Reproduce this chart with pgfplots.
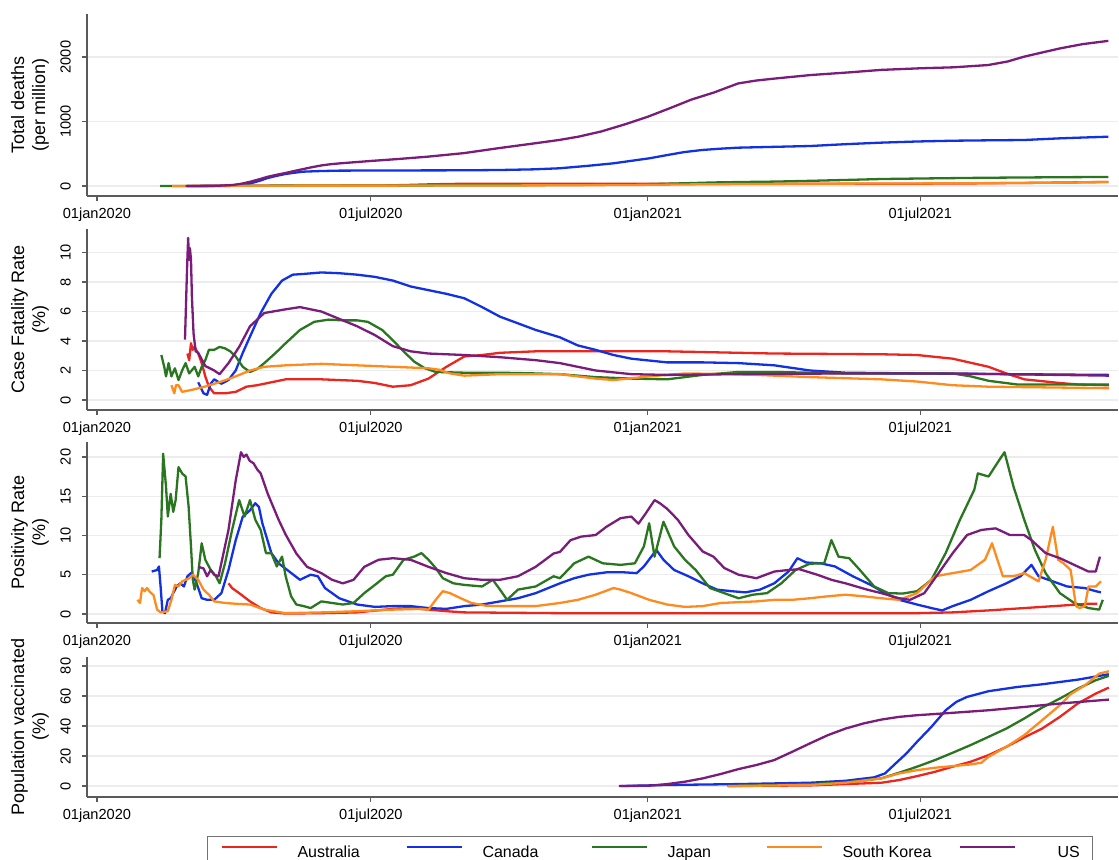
\documentclass[border=0pt]{standalone}
\usepackage{fontspec}
\setmainfont{Liberation Sans}
\usepackage{pgfplots}
\pgfplotsset{compat=1.18}

\definecolor{cAus}{RGB}{234,38,30}
\definecolor{cCan}{RGB}{18,48,228}
\definecolor{cJpn}{RGB}{42,118,32}
\definecolor{cKor}{RGB}{255,138,30}
\definecolor{cUS}{RGB}{122,28,122}
\definecolor{axisgray}{RGB}{90,90,90}
\definecolor{gridgray}{RGB}{236,236,236}

% x values are days since 1 January 2020
\pgfplotsset{
  panel/.style={
    scale only axis, width=515.5pt,
    xmin=-6.6, xmax=678.4,
    axis x line*=bottom, axis y line*=left,
    axis line style={draw=axisgray, line width=0.6pt},
    every tick/.style={draw=axisgray, line width=0.6pt},
    tick align=outside, major tick length=2.6pt,
    xtick={0,182,366,547},
    xticklabels={01jan2020,01jul2020,01jan2021,01jul2021},
    ymajorgrids, grid style={draw=gridgray, line width=0.6pt},
    tick label style={font=\fontsize{7.3}{8}\selectfont},
    yticklabel style={rotate=90, anchor=south},
    yticklabel shift=2pt,
    every axis y label/.style={at={(axis description cs:-0.0553,0.5)},
      rotate=90, anchor=center, align=center,
      font=\fontsize{9}{10.6}\selectfont},
    every axis plot/.append style={line width=1.15pt, line join=round, mark=none},
  }
}

\begin{document}
\begin{tikzpicture}
\useasboundingbox (0,0) rectangle (559.5pt,430pt);

% ---------------- Total deaths per million ----------------
\begin{axis}[panel, at={(43.5pt,332pt)}, anchor=south west, height=91pt,
  ymin=-155, ymax=2667, ytick={0,1000,2000}, yticklabels={0,1000,2000},
  ylabel={Total deaths\\(per million)}]
\addplot[cAus] coordinates {(60,0) (100,3) (150,4) (190,8) (205,15) (220,25) (235,32) (250,34) (300,35) (400,35) (547,36) (580,40) (620,48) (650,56) (672,63)};
\addplot[cCan] coordinates {(60,0) (85,3) (95,15) (102,40) (108,80) (113,120) (119,155) (125,185) (131,205) (137,222) (149,232) (161,238) (200,241) (244,243) (268,248) (290,258) (307,274) (325,310) (343,351) (355,390) (367,429) (379,480) (390,525) (402,558) (414,578) (426,594) (450,607) (474,620) (497,648) (521,672) (545,690) (569,702) (592,708) (616,713) (640,739) (656,752) (672,764)};
\addplot[cJpn] coordinates {(42,0) (80,1) (110,5) (150,7) (200,8) (250,12) (290,14) (320,17) (345,22) (366,28) (390,42) (410,55) (426,61) (450,68) (474,80) (500,95) (521,108) (547,116) (569,122) (592,128) (616,132) (640,136) (672,140)};
\addplot[cKor] coordinates {(50,0) (80,3) (110,5) (200,6) (260,8) (300,10) (340,14) (366,18) (400,26) (426,30) (474,35) (547,40) (600,45) (640,52) (672,62)};
\addplot[cUS] coordinates {(59,0) (80,3) (90,15) (96,35) (102,67) (108,105) (113,140) (119,172) (125,200) (131,232) (137,262) (143,292) (149,318) (155,337) (161,350) (173,372) (182,388) (200,418) (220,455) (244,510) (268,590) (292,665) (307,713) (320,765) (335,845) (350,950) (366,1074) (380,1200) (395,1340) (410,1450) (426,1590) (438,1635) (450,1665) (474,1720) (500,1762) (521,1800) (547,1825) (569,1840) (592,1875) (605,1930) (616,2005) (628,2070) (640,2134) (655,2200) (672,2250)};
\end{axis}

% ---------------- Case fatality rate ----------------
\begin{axis}[panel, at={(43.5pt,225pt)}, anchor=south west, height=90.5pt,
  ymin=-0.68, ymax=11.6, ytick={0,2,4,6,8,10}, yticklabels={0,2,4,6,8,10},
  ylabel={Case Fatality Rate\\(\%)}]
\addplot[cAus] coordinates {(60.1,3.15) (61.3,2.7) (62.5,3.85) (63.7,3.4) (64.9,3.6) (67.3,3.15) (69.6,2.5) (72.0,1.6) (74.4,0.9) (77.9,0.45) (85.1,0.45) (92.2,0.55) (99.3,0.9) (106.4,1.0) (115.9,1.2) (125.4,1.4) (149.1,1.4) (172.9,1.3) (184.7,1.15) (196.6,0.9) (208.4,1.0) (220.3,1.45) (232.2,2.25) (244.1,2.95) (255.9,3.05) (267.8,3.2) (291.5,3.3) (307.6,3.3) (378.8,3.3) (450,3.15) (521.2,3.1) (544.9,3.05) (568.6,2.8) (592.4,2.25) (604.2,1.8) (616.1,1.4) (639.8,1.15) (651.7,1.05) (672.3,1.0)};
\addplot[cCan] coordinates {(67.3,1.2) (70.8,0.45) (73.2,0.35) (75.6,1.1) (77.9,1.4) (82.7,1.1) (87.4,1.35) (92.2,2.0) (96.9,3.2) (101.7,4.3) (108.8,5.9) (115.9,7.2) (123.0,8.1) (130.1,8.5) (137.3,8.55) (149.1,8.65) (161.0,8.6) (172.9,8.5) (184.7,8.35) (196.6,8.1) (208.4,7.7) (220.3,7.45) (232.2,7.2) (244.1,6.9) (255.9,6.3) (267.8,5.65) (279.7,5.2) (291.5,4.75) (307.6,4.25) (319.5,3.7) (331.3,3.4) (343.2,3.05) (355.1,2.8) (378.8,2.55) (402.5,2.55) (426.3,2.5) (450,2.35) (473.7,2.0) (497.4,1.85) (544.9,1.8) (672.3,1.7)};
\addplot[cJpn] coordinates {(42.8,3.05) (44.7,2.25) (45.9,1.6) (47.6,2.5) (49.5,1.6) (51.8,2.15) (54.2,1.35) (56.6,2.0) (58.9,2.5) (61.3,1.8) (64.9,2.25) (67.3,1.6) (69.6,2.25) (72.0,2.7) (74.4,3.4) (77.9,3.4) (81.5,3.6) (85.1,3.5) (88.6,3.3) (92.2,2.95) (96.9,2.25) (101.7,1.9) (106.4,2.1) (111.2,2.5) (118.3,3.15) (125.4,3.85) (134.9,4.75) (144.4,5.3) (153.9,5.45) (163.4,5.4) (172.9,5.4) (180.0,5.3) (189.5,4.75) (196.6,4.05) (203.7,3.3) (210.8,2.6) (217.9,2.15) (225.1,1.9) (244.1,1.85) (267.8,1.85) (291.5,1.8) (307.6,1.75) (331.3,1.55) (355.1,1.45) (378.8,1.4) (402.5,1.7) (426.3,1.9) (450,1.9) (497.4,1.8) (568.6,1.8) (580.5,1.6) (592.4,1.3) (611.4,1.05) (672.3,1.05)};
\addplot[cKor] coordinates {(49.5,1.0) (51.4,0.45) (52.5,1.0) (54.2,1.0) (56.6,0.55) (63.7,0.7) (73.2,0.95) (82.7,1.25) (92.2,1.6) (101.7,2.0) (111.2,2.25) (125.4,2.35) (149.1,2.45) (172.9,2.35) (196.6,2.25) (220.3,2.15) (227.4,2.05) (234.6,1.8) (244.1,1.65) (267.8,1.75) (291.5,1.75) (307.6,1.75) (331.3,1.45) (343.2,1.35) (366.9,1.6) (390.7,1.8) (426.3,1.75) (473.7,1.55) (521.2,1.4) (544.9,1.25) (568.6,1.0) (592.4,0.9) (672.3,0.8)};
\addplot[cUS] coordinates {(58.5,4.1) (59.9,9.0) (60.6,11.0) (61.2,9.5) (61.8,10.3) (62.5,9.5) (63.1,7.0) (64.2,4.5) (65.6,3.3) (67.3,3.2) (72.0,2.3) (77.9,2.0) (81.5,1.75) (87.4,2.5) (94.5,3.6) (101.7,5.0) (111.2,5.9) (125.4,6.15) (134.9,6.3) (149.1,6.0) (161.0,5.5) (172.9,5.0) (184.7,4.4) (196.6,3.65) (208.4,3.3) (220.3,3.15) (244.1,3.05) (267.8,2.9) (291.5,2.7) (307.6,2.5) (331.3,2.0) (355.1,1.75) (378.8,1.7) (426.3,1.75) (497.4,1.8) (568.6,1.8) (672.3,1.65)};
\end{axis}

% ---------------- Positivity rate ----------------
\begin{axis}[panel, at={(43.5pt,118.5pt)}, anchor=south west, height=90.5pt,
  ymin=-1.15, ymax=21.9, ytick={0,5,10,15,20}, yticklabels={0,5,10,15,20},
  ylabel={Positivity Rate\\(\%)}]
\addplot[cAus] coordinates {(87.4,3.9) (89.8,3.3) (94.5,2.65) (101.7,1.6) (108.8,0.75) (115.9,0.2) (125.4,0.05) (149.1,0.1) (172.9,0.2) (196.6,0.65) (208.4,0.75) (220.3,0.55) (232.2,0.35) (244.1,0.2) (307.6,0.1) (544.9,0.1) (568.6,0.2) (592.4,0.45) (616.1,0.75) (639.8,1.05) (658.8,1.3) (664.7,1.3)};
\addplot[cCan] coordinates {(36.4,5.4) (40.0,5.6) (41.2,6.05) (42.3,3.5) (43.5,0.35) (45.2,0.1) (47.1,1.8) (49.0,2.0) (50.7,2.65) (53.0,3.5) (55.4,3.9) (57.8,3.5) (60.1,4.8) (62.5,5.2) (64.9,4.55) (67.3,3.3) (69.6,2.0) (73.2,1.8) (77.9,1.8) (82.7,2.65) (87.4,5.6) (92.2,9.4) (96.9,12.4) (101.7,13.2) (105.2,14.1) (107.6,13.65) (109.9,11.55) (115.9,7.75) (120.7,6.45) (127.8,5.4) (134.9,4.35) (142.0,5.0) (146.8,4.8) (151.5,3.3) (161.0,2.0) (172.9,1.2) (184.7,0.9) (196.6,1.0) (208.4,1.0) (220.3,0.75) (232.2,0.65) (244.1,1.0) (255.9,1.2) (267.8,1.6) (279.7,2.0) (291.5,2.65) (307.6,3.9) (317.1,4.55) (326.6,5.0) (338.5,5.3) (350.3,5.3) (358.6,5.2) (363.4,6.05) (371.7,8.15) (376.4,6.9) (383.5,5.6) (393.0,4.8) (402.5,3.9) (412.0,3.1) (421.5,2.9) (431.0,2.75) (440.5,3.1) (450.0,3.9) (459.5,5.4) (465.4,7.1) (471.3,6.55) (480.8,6.45) (490.3,6.05) (502.2,4.8) (514.1,3.7) (523.6,2.65) (533.0,1.8) (544.9,1.2) (554.4,0.75) (561.5,0.45) (568.6,1.0) (580.5,1.8) (592.4,2.9) (604.2,3.9) (613.7,4.8) (620.9,6.25) (625.6,4.8) (635.1,4.15) (644.6,3.5) (656.4,3.3) (663.6,2.9) (667.1,2.75)};
\addplot[cJpn] coordinates {(41.6,7.1) (42.8,12.0) (44.0,20.4) (45.9,16.2) (47.1,12.4) (49.0,15.3) (50.7,13.0) (52.3,14.5) (54.2,18.7) (56.6,17.9) (58.9,17.5) (60.9,13.7) (62.5,8.6) (63.7,4.35) (64.9,3.1) (67.3,5.2) (69.6,9.0) (72.0,6.9) (75.6,5.6) (79.1,4.8) (81.5,3.9) (85.1,6.45) (89.8,10.7) (94.5,14.5) (98.1,12.4) (101.7,14.5) (105.2,12.0) (108.8,10.7) (112.3,7.75) (115.9,7.75) (119.5,6.05) (123.0,7.3) (125.4,4.8) (129.0,2.25) (132.5,1.2) (137.3,1.0) (142.0,0.75) (149.1,1.6) (156.2,1.4) (163.4,1.2) (170.5,1.4) (177.6,2.65) (184.7,3.7) (191.9,4.8) (196.6,5.0) (203.7,6.9) (210.8,7.3) (215.6,7.75) (220.3,6.9) (225.1,5.85) (229.8,4.55) (236.9,3.9) (244.1,3.7) (255.9,3.5) (263.0,4.35) (267.8,3.1) (272.5,1.8) (279.7,3.1) (291.5,3.5) (303.4,4.8) (307.6,4.55) (317.1,6.45) (326.6,7.3) (336.1,6.45) (347.9,6.25) (357.4,6.45) (363.4,8.6) (366.9,11.55) (370.5,7.3) (376.4,11.75) (383.5,8.6) (390.7,6.9) (397.8,5.6) (407.3,3.3) (416.8,2.65) (426.3,2.0) (435.7,2.45) (445.2,2.65) (454.7,3.9) (464.2,5.6) (473.7,6.4) (483.2,6.45) (488.0,9.4) (492.7,7.3) (499.8,7.1) (506.9,5.6) (516.4,3.5) (525.9,2.65) (535.4,2.6) (544.9,2.9) (554.4,4.35) (563.9,7.75) (573.4,12.0) (582.9,15.8) (585.3,17.9) (592.4,17.5) (599.5,19.6) (603.0,20.6) (609.0,16.2) (616.1,12.0) (623.2,8.15) (630.3,5.2) (639.8,2.65) (649.3,1.4) (658.8,0.75) (665.9,0.55) (668.3,1.8)};
\addplot[cKor] coordinates {(26.9,1.8) (28.6,1.4) (30.0,3.3) (31.7,2.9) (33.3,3.3) (35.2,2.8) (37.6,2.4) (40.0,0.55) (42.3,0.2) (47.1,0.35) (49.5,1.8) (51.8,3.7) (54.2,3.5) (56.6,4.15) (61.3,4.55) (63.7,5.0) (67.3,4.35) (70.8,3.1) (74.4,2.45) (77.9,1.6) (85.1,1.4) (92.2,1.3) (101.7,1.2) (111.2,0.55) (125.4,0.1) (149.1,0.2) (172.9,0.35) (196.6,0.55) (215.6,0.65) (220.3,0.55) (225.1,1.8) (229.8,2.9) (234.6,2.65) (241.7,2.0) (248.8,1.4) (258.3,1.05) (267.8,1.0) (291.5,1.0) (307.6,1.4) (319.5,1.8) (331.3,2.45) (343.2,3.3) (347.9,3.1) (355.1,2.65) (366.9,1.8) (378.8,1.2) (390.7,0.9) (402.5,1.0) (414.4,1.4) (426.3,1.5) (438.1,1.6) (450.0,1.8) (461.9,1.8) (473.7,2.0) (485.6,2.25) (497.4,2.45) (509.3,2.25) (521.2,2.0) (533.0,1.8) (544.9,2.65) (556.8,4.8) (568.6,5.2) (580.5,5.6) (590.0,6.9) (594.7,9.0) (598.3,6.9) (601.9,4.8) (609.0,4.8) (616.1,5.2) (625.6,4.15) (630.3,6.9) (635.1,11.1) (638.6,6.9) (642.2,6.45) (646.9,5.6) (650.5,1.0) (652.9,0.75) (656.4,1.0) (658.8,3.5) (663.6,3.5) (667.1,4.15)};
\addplot[cUS] coordinates {(67.3,6.0) (70.8,5.8) (73.2,4.8) (75.6,5.6) (77.9,5.0) (80.8,4.8) (82.7,6.5) (87.4,10.7) (92.2,17.0) (95.7,20.6) (97.5,20.0) (99.3,20.3) (101.5,19.5) (104.0,19.2) (106.5,18.4) (108.8,17.9) (113.5,15.3) (120.7,12.0) (125.4,10.1) (132.5,7.7) (139.6,6.0) (149.1,5.2) (156.2,4.35) (163.4,3.9) (170.5,4.35) (177.6,6.0) (187.1,6.9) (196.6,7.1) (208.4,6.9) (220.3,6.0) (232.2,5.2) (244.1,4.55) (255.9,4.35) (267.8,4.35) (279.7,4.8) (291.5,6.0) (303.4,7.7) (307.6,7.9) (314.7,9.4) (321.8,9.85) (331.3,10.05) (338.5,11.1) (347.9,12.2) (355.1,12.4) (359.8,11.5) (364.6,12.8) (370.5,14.5) (374.0,14.1) (378.8,13.4) (385.9,12.0) (393.0,10.05) (402.5,7.95) (409.6,7.3) (416.8,5.85) (426.3,5.0) (438.1,4.55) (450.0,5.4) (459.5,5.6) (466.6,5.7) (478.5,5.0) (488.0,4.35) (497.4,3.9) (511.7,3.1) (521.2,2.65) (533.0,2.0) (540.2,1.8) (549.7,2.65) (559.2,5.2) (568.6,7.75) (578.1,10.05) (587.6,10.7) (597.1,10.9) (606.6,10.05) (616.1,10.05) (620.9,9.4) (630.3,7.75) (639.8,7.1) (649.3,6.25) (658.8,5.4) (663.6,5.4) (666.4,7.3)};
\end{axis}

% ---------------- Population vaccinated ----------------
\begin{axis}[panel, at={(43.5pt,31.5pt)}, anchor=south west, height=70pt,
  ymin=-7.3, ymax=86, ytick={0,20,40,60,80}, yticklabels={0,20,40,60,80},
  ylabel={Population vaccinated\\(\%)},
  legend columns=5,
  legend style={at={(axis description cs:0.1164,-0.2786)}, anchor=north west,
    draw=black!55, line width=0.5pt,
    inner xsep=6.5pt, inner ysep=4pt, font=\fontsize{8}{9.5}\selectfont,
    nodes={inner sep=0pt},
    /tikz/every odd column/.append style={column sep=10pt}},
  legend image code/.code={\draw[#1, line width=1pt] (0pt,2.6pt) -- (27.5pt,2.6pt);}]
\addplot[cAus] coordinates {(419.1,0) (473.7,0.4) (497.4,1.3) (521.2,2.2) (533.0,4.0) (544.9,6.6) (556.8,9.5) (568.6,12.9) (580.5,16.2) (592.4,20.6) (604.2,26.1) (616.1,32.4) (628.0,38.3) (639.8,46.1) (651.7,55.0) (663.6,61.6) (672.3,65.6)};
\addlegendentry{\makebox[54pt][l]{Australia\strut}}
\addplot[cCan] coordinates {(347.9,0) (378.8,0.7) (426.3,1.3) (473.7,2.2) (497.4,3.5) (516.4,5.8) (523.6,8.4) (530.7,15.1) (537.8,21.7) (544.9,29.5) (554.4,39.4) (563.9,50.5) (571.0,56.1) (578.1,59.4) (592.4,63.2) (611.4,66.0) (628.0,67.8) (651.7,70.9) (672.3,74.5)};
\addlegendentry{\makebox[54pt][l]{Canada\strut}}
\addplot[cJpn] coordinates {(419.1,0) (473.7,1.3) (497.4,2.4) (521.2,5.1) (533.0,8.9) (544.9,12.9) (556.8,17.3) (568.6,22.2) (580.5,27.3) (592.4,32.8) (604.2,38.3) (616.1,45.0) (628.0,52.3) (639.8,58.3) (651.7,64.9) (663.6,70.5) (672.3,73.4)};
\addlegendentry{\makebox[49pt][l]{Japan\strut}}
\addplot[cKor] coordinates {(419.1,0) (473.7,0.7) (497.4,2.2) (521.2,5.1) (533.0,8.4) (544.9,10.6) (556.8,12.2) (568.6,13.3) (580.5,14.4) (587.6,15.5) (592.4,19.5) (604.2,26.1) (616.1,33.9) (628.0,43.9) (639.8,53.9) (646.9,61.2) (656.4,67.1) (665.9,74.9) (672.3,76.5)};
\addlegendentry{\makebox[58pt][l]{South Korea\strut}}
\addplot[cUS] coordinates {(346.8,0) (366.9,0.2) (378.8,1.3) (390.7,2.9) (402.5,5.1) (414.4,8.0) (426.3,11.3) (438.1,14.0) (450.0,17.3) (461.9,22.8) (473.7,28.4) (485.6,33.9) (497.4,38.3) (509.3,41.7) (521.2,44.3) (533.0,46.1) (544.9,47.2) (568.6,48.8) (592.4,50.5) (616.1,52.7) (639.8,55.0) (672.3,57.6)};
\addlegendentry{\hspace{11pt}US\strut}
\end{axis}
\end{tikzpicture}
\end{document}
